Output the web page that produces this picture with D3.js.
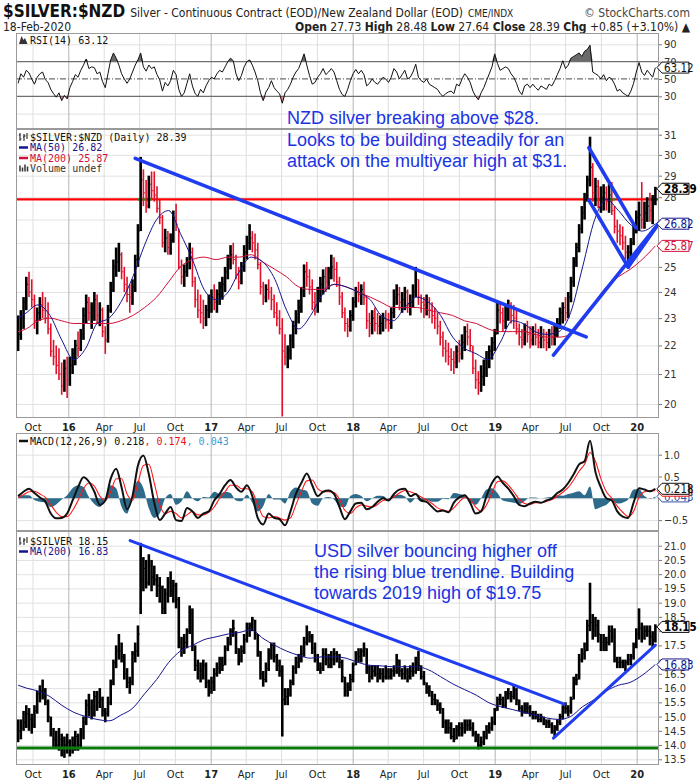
<!DOCTYPE html>
<html>
<head>
<meta charset="utf-8">
<title>$SILVER:$NZD</title>
<script src="https://cdn.jsdelivr.net/npm/d3@7"></script>
<style>
  body { margin: 0; background: #fff; }
  .chart svg { display: block; }
</style>
</head>
<body>
<div class="chart"></div>
<script>
// weekly bars (Tuesday of each week) 25-Aug-2015 .. 18-Feb-2020
const weeks = d3.timeTuesday.range(new Date(2015, 7, 25), new Date(2020, 1, 19));

// $SILVER:$NZD weekly high / low / close
const nzdHigh = [
  23.1,23.3,23.8,24.6,24.8,24.5,23.9,23.4,23.8,24.0,23.8,23.6,22.8,22.2,22.0,21.9,21.4,21.5,21.6,
  21.6,21.9,22.2,22.5,22.6, 23.4,23.9,23.8,23.6, 24.0,23.9,23.6,23.4, 22.7,23.5,24.4,25.3,25.8, 26.0,25.6,25.0,24.6, 24.3,24.5,25.5,26.8, 29.9,29.3,28.8,29.0,29.2, 29.2,28.5,27.9,27.2, 26.6,26.5,26.4,27.4,27.7, 26.6,25.3,25.1,25.4, 26.0,25.8,24.6,24.1, 23.9,23.7,23.5,23.9,24.1,
  24.3,24.1,24.4,24.6, 25.0,25.5,25.9,26.0, 25.5,25.0,25.2,25.9,26.3, 26.8,26.5,26.4,26.0, 25.2,24.4,24.3,24.5, 24.2,23.9,23.6,23.3,23.0, 22.4,22.0,22.4,22.9, 23.3,23.7,24.2,25.1, 25.2,24.9,24.5,24.0,24.2, 24.6,24.9,25.0,25.0, 25.5,25.4,25.2,24.6, 24.0,23.4,23.0,23.3,23.8,
  24.2,24.4,24.3,24.4, 23.8,23.2,23.3,23.4, 23.2,23.1,23.2,23.3,23.2, 23.4,24.1,24.3,24.2, 24.0,24.2,24.1,23.9, 24.3,25.0,24.5,23.9,23.8, 23.9,23.8,23.6,23.4, 23.2,22.9,22.5,22.2,22.1, 21.9,21.8,22.0,22.2, 22.4,22.7,22.8,22.6, 22.0,21.5,21.1,21.3,21.5, 21.8,22.0,22.3,22.6,
  23.6,23.6,23.4,23.5, 23.7,23.6,23.5,23.3, 22.8,22.6,22.8,22.9,22.7, 22.7,22.8,22.6,22.7, 22.6,22.5,22.6,22.7,22.8, 23.0,23.4,23.6,23.8, 24.0,24.6,25.4,26.0, 26.8,27.6,28.2,29.0,30.9, 29.6,28.9,28.8,28.5, 28.6,28.5,28.6,28.7, 27.6,27.0,26.8,26.7,26.3, 25.9,26.2,26.8,27.4,
  27.8,28.7,27.8,28.0,28.2,28.1,28.48
];
const nzdLow = [
  21.8,22.2,22.6,23.3,23.8,23.4,22.6,22.4,22.9,23.0,22.8,22.4,21.6,21.3,21.0,20.8,20.3,20.4,20.2,
  20.6,21.0,21.3,21.6,21.8, 22.2,22.8,22.9,22.6, 22.9,22.8,22.7,22.3, 21.7,22.1,23.2,24.0,24.6, 24.8,24.5,24.0,23.6, 23.2,23.5,24.0,25.0, 26.5,27.6,27.3,27.5,27.9, 27.8,27.3,26.8,25.8, 25.6,25.5,25.5,26.0,26.5, 24.9,24.3,24.2,24.6, 24.9,24.2,23.4,23.0, 22.8,22.6,22.7,23.0,23.2,
  23.3,23.2,23.5,23.7, 24.0,24.5,24.9,25.1, 24.5,24.1,24.3,24.8,25.3, 25.7,25.6,25.3,24.9, 23.9,23.5,23.6,23.7, 23.3,23.0,22.7,22.4,19.6, 21.3,21.2,21.5,21.9, 22.4,22.8,23.2,23.8, 24.2,23.9,23.3,23.1,23.2, 23.6,23.9,24.0,24.1, 24.5,24.4,24.2,23.5, 23.0,22.5,22.3,22.5,22.9,
  23.4,23.6,23.5,23.5, 22.6,22.3,22.4,22.5, 22.4,22.4,22.5,22.6,22.5, 22.6,23.0,23.5,23.3, 23.2,23.3,23.2,23.1, 23.4,23.8,23.5,23.2,23.0, 23.1,23.0,22.8,22.6, 22.4,22.0,21.6,21.4,21.3, 21.1,21.0,21.2,21.4, 21.5,21.8,22.0,21.8, 21.0,20.5,20.3,20.4,20.6, 20.9,21.2,21.5,21.8,
  22.4,22.8,22.5,22.6, 22.9,22.8,22.6,22.4, 22.0,21.9,22.0,22.1,21.9, 22.0,22.0,21.9,21.9, 21.9,21.8,21.9,22.0,22.0, 22.3,22.6,22.8,22.9, 23.0,23.6,24.2,25.0, 25.6,26.4,27.0,27.8,28.5, 27.8,27.6,27.5,27.3, 27.4,27.4,27.3,27.2, 26.4,26.0,25.9,25.7,25.3, 25.2,25.4,25.9,26.4,
  26.5,26.6,26.6,26.9,26.9,26.8,27.64
];
const nzdClose = [
  22.4,23.0,23.6,24.3,24.0,23.7,22.9,23.2,23.5,23.3,23.0,22.6,21.8,21.6,21.3,21.0,20.6,21.2,20.8,
  21.3,21.7,22.0,21.9,22.4, 23.1,23.6,23.2,23.4, 23.7,23.1,23.3,22.5, 22.2,23.3,24.1,25.0,25.2, 25.5,24.8,24.3,23.9, 23.8,24.2,25.3,26.5, 28.8,28.2,27.6,28.6,28.3, 28.1,27.5,27.1,26.0, 26.2,25.8,26.1,27.1,26.8, 25.0,24.6,24.8,25.2, 25.6,24.4,23.7,23.3, 23.2,23.0,23.3,23.6,23.8,
  23.6,23.9,24.2,24.3, 24.8,25.3,25.5,25.3, 24.7,24.4,25.0,25.6,26.0, 26.2,26.0,25.7,25.1, 24.2,23.8,24.1,24.0, 23.7,23.2,23.0,22.6,21.8, 21.6,21.8,22.2,22.7, 23.0,23.4,24.0,24.8, 24.6,24.2,23.6,23.5,23.9, 24.3,24.6,24.4,24.8, 25.0,24.9,24.4,23.8, 23.2,22.8,22.7,23.1,23.6,
  24.0,23.9,24.1,23.8, 22.9,22.8,23.0,22.8, 22.7,22.8,23.0,22.9,22.8, 23.2,23.8,23.9,23.6, 23.7,24.0,23.5,23.6, 24.0,24.5,23.8,23.6,23.5, 23.6,23.3,23.1,23.0, 22.7,22.3,21.9,21.8,21.6, 21.5,21.4,21.8,21.7, 22.1,22.5,22.3,22.0, 21.2,20.8,20.7,20.9,21.2, 21.5,21.8,22.1,22.4,
  23.3,23.2,22.9,23.3, 23.4,23.1,23.0,22.6, 22.3,22.2,22.5,22.4,22.2, 22.4,22.3,22.1,22.3, 22.2,22.1,22.4,22.3,22.6, 22.8,23.2,23.4,23.2, 23.8,24.4,25.2,25.8, 26.6,27.3,27.9,28.8,29.4, 28.2,28.5,27.9,28.0, 28.2,27.8,28.1,27.4, 26.7,26.5,26.3,26.0,25.6, 25.6,26.0,26.6,27.1,
  27.2,27.0,27.3,27.6,27.4,27.7,28.39
];

// $SILVER (USD) weekly high / low / close
const usdHigh = [
  14.9,14.9,15.2,15.4,15.3,15.1,15.4,15.9,16.1,16.3,16.0,15.6,15.0,14.6,14.5,14.6,14.4,14.3,14.4,
  14.2,14.3,14.5,14.4,14.6, 15.0,15.6,15.8,15.6, 15.9,15.9,16.0,15.7, 15.3,15.7,16.3,17.0,17.5, 17.9,17.6,17.2,16.7, 16.4,17.3,17.6,18.2, 21.1,20.6,20.5,20.7,20.5, 20.3,20.0,19.9,19.6, 19.5,19.9,20.1,19.8,19.7, 19.2,17.8,17.9,18.1, 18.9,18.8,17.5,17.0, 16.9,17.0,16.9,16.3,16.4,
  16.7,16.9,17.1,17.1, 17.5,17.8,18.1,18.4, 18.0,17.4,17.5,17.9,18.3, 18.3,18.5,18.4,17.9, 17.3,16.6,16.9,17.4, 17.6,17.6,17.2,17.0,16.8, 16.0,16.0,16.3,16.8, 17.1,17.2,17.5,17.8, 18.2,18.0,17.9,17.6,17.2, 16.9,17.4,17.4,17.2, 17.3,17.4,17.3,17.2, 17.0,16.4,16.2,16.5,16.9,
  17.3,17.4,17.4,17.6, 17.4,16.8,16.8,16.8, 16.8,16.7,16.7,16.8,16.7, 16.7,16.8,17.2,17.0, 16.7,16.8,16.7,16.8, 16.9,17.1,17.3,16.8,16.6, 16.2,16.1,15.9,15.8, 15.6,15.5,15.3,14.9,14.9, 14.8,14.6,14.7,14.8, 14.8,14.9,14.9,14.9, 14.8,14.5,14.4,14.3,14.5, 14.7,14.8,15.0,15.3,
  15.7,15.8,15.7,15.9, 16.0,15.9,16.1,16.0, 15.6,15.4,15.5,15.5,15.4, 15.2,15.2,15.1,15.1, 15.0,14.9,14.9,14.8,14.7, 14.9,15.1,15.4,15.5, 15.4,15.7,16.4,16.5, 17.2,17.4,17.6,18.4,19.7, 18.6,18.5,18.4,17.9, 17.9,17.8,18.2,18.2, 18.1,17.1,17.1,17.0,17.0, 17.2,17.2,17.6,18.1,
  18.8,18.3,18.2,18.2,18.2,18.0,18.24
];
const usdLow = [
  14.1,14.2,14.5,14.6,14.5,14.4,14.6,15.1,15.5,15.6,15.4,14.8,14.3,13.9,13.9,13.8,13.6,13.55,13.7,
  13.6,13.7,13.8,13.8,13.9, 14.2,14.7,15.0,14.9, 15.0,15.2,15.3,15.0, 14.8,15.0,15.4,16.1,16.7, 17.0,16.9,16.3,16.0, 15.8,16.1,16.9,17.1, 18.6,19.4,19.5,19.6,19.4, 19.6,19.2,19.0,18.6, 18.6,19.0,19.2,19.0,18.8, 17.4,17.1,17.2,17.4, 17.9,17.3,16.6,16.3, 16.2,16.3,16.0,15.7,15.8,
  15.9,16.4,16.5,16.6, 16.8,17.3,17.5,17.8, 17.2,16.8,16.9,17.2,17.6, 17.8,18.0,17.7,17.1, 16.3,16.05,16.2,16.6, 17.0,16.9,16.6,16.4,14.3, 15.4,15.4,15.7,16.1, 16.5,16.7,16.9,17.1, 17.5,17.6,17.2,16.9,16.6, 16.5,16.6,16.8,16.7, 16.7,16.8,16.9,16.7, 16.2,15.7,15.7,15.9,16.2,
  16.8,16.9,16.9,17.1, 16.5,16.2,16.3,16.4, 16.2,16.3,16.2,16.3,16.3, 16.3,16.4,16.5,16.4, 16.3,16.3,16.2,16.3, 16.4,16.5,16.6,16.3,16.1, 15.8,15.7,15.4,15.4, 15.2,15.1,14.6,14.4,14.4, 14.2,14.1,14.2,14.3, 14.3,14.4,14.5,14.5, 14.3,14.1,13.85,13.9,14.0, 14.2,14.4,14.5,14.7,
  15.2,15.4,15.3,15.3, 15.6,15.5,15.6,15.4, 15.2,15.0,15.1,15.1,15.0, 14.9,14.9,14.8,14.8, 14.7,14.6,14.6,14.4,14.3, 14.5,14.7,14.9,15.1, 15.0,15.1,15.6,16.1, 16.3,16.9,17.0,17.3,18.0, 17.7,17.8,17.6,17.3, 17.3,17.3,17.5,17.6, 16.9,16.7,16.7,16.7,16.6, 16.8,16.8,17.0,17.4,
  17.7,17.6,17.7,17.8,17.5,17.4,17.6
];
const usdClose = [
  14.5,14.6,14.8,15.1,14.9,14.7,15.2,15.8,15.9,15.8,15.5,15.0,14.4,14.2,14.0,14.2,13.9,14.0,14.1,
  13.9,14.0,14.3,14.0,14.4, 14.8,15.4,15.3,15.1, 15.7,15.5,15.6,15.2, 15.1,15.5,16.2,16.9,17.3, 17.3,17.1,16.5,16.2, 16.2,17.2,17.3,17.9, 19.8,20.2,19.7,20.3,19.9, 19.8,19.6,19.5,18.8, 19.3,19.7,19.4,19.6,19.1, 17.6,17.4,17.6,18.0, 18.6,17.5,16.8,16.6, 16.6,16.8,16.2,16.0,16.2,
  16.5,16.7,17.0,16.8, 17.4,17.6,18.0,18.1, 17.4,17.0,17.3,17.7,18.1, 18.2,18.4,17.9,17.3, 16.5,16.3,16.7,17.2, 17.5,17.1,16.8,16.6,15.6, 15.7,15.8,16.2,16.7, 16.9,17.0,17.2,17.6, 17.9,17.8,17.4,17.0,16.7, 16.7,17.2,17.0,16.8, 17.0,17.2,17.1,16.9, 16.4,15.9,16.0,16.3,16.8,
  17.2,17.1,17.3,17.4, 16.7,16.4,16.6,16.5, 16.5,16.5,16.4,16.6,16.4, 16.6,16.6,17.0,16.6, 16.5,16.6,16.4,16.6, 16.6,16.9,16.8,16.4,16.2, 16.0,15.9,15.6,15.6, 15.4,15.3,14.8,14.6,14.6, 14.3,14.2,14.5,14.6, 14.6,14.7,14.7,14.6, 14.4,14.2,14.0,14.1,14.3, 14.5,14.6,14.8,15.2,
  15.6,15.6,15.4,15.8, 15.8,15.7,15.9,15.6, 15.3,15.2,15.3,15.3,15.1, 15.1,15.0,14.9,15.0, 14.9,14.8,14.7,14.5,14.6, 14.8,15.0,15.3,15.3, 15.2,15.6,16.3,16.3, 17.0,17.2,17.3,18.2,18.3, 18.0,18.2,17.9,17.6, 17.6,17.6,18.0,17.8, 17.0,16.9,16.9,16.8,16.9, 17.0,17.1,17.5,17.9,
  18.1,17.9,18.0,18.0,17.8,17.7,18.15
];

// RSI(14) of $SILVER:$NZD, one value per week
const rsi14 = [
  45,56,52,60,57,50,44,52,56,58,49,46,38,33,29,34,25,31,27,
  40,47,55,52,60, 66,73,62,64, 63,56,58,47, 40,56,72,80,74, 66,56,50,45, 50,58,66,72, 80,64,59,66,62, 64,55,49,36, 46,42,48,60,55, 38,30,34,45, 56,42,33,30, 38,34,42,48,52,
  50,56,60,58, 64,70,74,71, 56,48,54,64,70, 72,66,58,48, 34,25,35,40, 48,40,36,33,22, 34,38,44,52, 58,62,70,79, 66,54,44,46,52, 56,62,55,58, 62,58,48,38, 32,30,38,48,56,
  61,56,60,55, 42,45,50,46, 44,48,52,50,46, 52,62,58,50, 55,60,50,52, 58,67,52,48,46, 50,44,42,40, 38,33,30,33,35, 36,33,44,42, 50,56,52,46, 36,30,26,34,40, 48,56,64,79,
  68,60,62,64, 62,56,52,45, 36,32,42,44,40, 44,40,37,42, 40,38,44,42,48, 55,62,71,62, 66,74,76,78, 80,76,82,84,89, 58,56,54,50, 55,48,52,50, 44,36,38,34,32, 30,36,45,58,
  69,58,54,60,56,52,63.12
];

// MACD(12,26,9) line and signal, every second week
const macdLine = [
  0.05,0.15,0.22,0.12,0.02,-0.08,-0.35,-0.46,-0.45,-0.35,
  -0.05,0.25,0.48,0.38,0.15,-0.15,-0.05,0.45,0.68,0.25,
  -0.25,0.05,0.75,0.98,0.55,-0.1,-0.5,-0.35,-0.2,-0.5,
  -0.52,-0.22,-0.3,-0.45,-0.35,-0.3,-0.05,0.1,0.3,0.42,
  0.25,0.15,0.3,0.05,-0.45,-0.6,-0.35,-0.45,-0.48,-0.62,
  -0.3,0.1,0.35,0.57,0.3,0.05,0.15,0.18,0.1,-0.2,
  -0.48,-0.3,-0.12,-0.1,-0.25,-0.2,-0.08,0.0,-0.05,0.1,
  0.2,0.22,0.05,0.1,-0.05,-0.08,-0.2,-0.3,-0.28,-0.32,
  -0.1,0.02,0.07,-0.1,-0.35,-0.3,0.05,0.35,0.5,0.35,
  0.22,0.05,-0.15,-0.18,-0.12,-0.08,-0.1,-0.05,0.0,0.12,
  0.2,0.35,0.55,0.78,0.85,1.32,0.6,0.25,0.0,-0.05,
  -0.3,-0.42,-0.45,-0.1,0.23,0.2,0.16,0.218
];
const macdSignal = [
  0.02,0.08,0.15,0.16,0.1,0.02,-0.15,-0.32,-0.42,-0.42,
  -0.28,-0.05,0.22,0.35,0.28,0.05,-0.05,0.15,0.45,0.45,
  0.1,-0.05,0.35,0.75,0.78,0.35,-0.15,-0.35,-0.3,-0.35,
  -0.45,-0.38,-0.3,-0.38,-0.38,-0.32,-0.2,0.0,0.15,0.3,
  0.3,0.22,0.22,0.15,-0.15,-0.42,-0.45,-0.42,-0.45,-0.5,
  -0.45,-0.15,0.15,0.4,0.42,0.22,0.15,0.15,0.13,-0.02,
  -0.28,-0.35,-0.22,-0.15,-0.18,-0.2,-0.14,-0.05,-0.03,0.03,
  0.12,0.18,0.15,0.1,0.03,-0.04,-0.12,-0.22,-0.27,-0.3,
  -0.22,-0.08,0.02,-0.02,-0.2,-0.3,-0.15,0.12,0.38,0.4,
  0.3,0.15,-0.02,-0.12,-0.14,-0.1,-0.1,-0.07,-0.03,0.05,
  0.14,0.25,0.42,0.62,0.78,1.05,0.85,0.45,0.15,0.0,
  -0.18,-0.32,-0.42,-0.3,0.02,0.15,0.17,0.174
];

// moving averages, read at mid-month (first and last point at the data ends)
const maDates = [new Date(2015, 7, 25)]
  .concat(d3.timeMonth.range(new Date(2015, 8, 1), new Date(2020, 0, 2)).map(d => d3.timeDay.offset(d, 14)))
  .concat([new Date(2020, 1, 18)]);
const nzdMa50 = [
  23.0, 23.2,23.5,23.1,22.2,
  21.5,21.9,22.8,23.0,23.6,24.6,25.9,27.0,27.4,26.4,25.3,24.1,
  23.7,24.0,24.8,25.4,25.2,24.5,23.3,22.6,23.1,23.9,24.3,24.2,
  24.0,23.7,23.1,22.9,23.4,23.8,23.6,23.1,22.3,21.9,21.7,21.5,
  22.1,22.9,22.8,22.5,22.4,22.5,23.2,25.0,27.0,27.9,27.4,26.8,
  26.5, 26.82
];
const nzdMa200 = [
  22.5, 22.6,22.9,23.0,22.9,
  22.8,22.8,22.8,22.8,22.9,23.1,23.4,23.8,24.4,25.0,25.3,25.4,
  25.3,25.4,25.4,25.5,25.2,24.9,24.6,24.2,24.1,24.1,24.3,24.2,
  24.0,23.8,23.6,23.4,23.4,23.4,23.3,23.2,23.1,22.9,22.8,22.6,
  22.5,22.5,22.5,22.4,22.3,22.3,22.4,22.9,23.6,24.2,24.6,24.9,
  25.3, 25.87
];
const usdMa200 = [
  16.1, 16.0,15.9,15.7,15.4,
  15.15,15.0,14.9,14.85,15.05,15.3,15.8,16.3,16.9,17.3,17.5,17.7,
  17.8,17.9,17.95,18.05,17.75,17.5,17.3,17.15,17.05,17.1,17.1,17.05,
  16.9,16.8,16.78,16.75,16.75,16.75,16.64,16.4,16.15,15.95,15.75,15.5,
  15.35,15.25,15.15,15.05,14.95,14.9,15.0,15.35,15.6,15.9,16.1,16.2,
  16.45, 16.83
];

// drawn annotations: [date, price] end points
const nzdTrendlines = [
  [['2016-06-21', 29.83], ['2019-08-24', 22.31]],
  [['2019-06-01', 21.66], ['2020-02-27', 26.84]],
  [['2019-08-31', 30.35], ['2019-12-30', 26.64]],
  [['2019-08-31', 27.87], ['2019-12-10', 24.99]],
  [['2019-12-10', 24.99], ['2020-02-29', 26.89]]
];
const usdTrendlines = [
  [['2016-06-08', 21.18], ['2019-06-29', 15.44]],
  [['2019-06-01', 14.24], ['2020-02-18', 17.51]]
];
const nzdResistance = 27.9;
const nzdResistanceMarks = [['2016-06-28', '2016-08-03'], ['2019-09-09', '2019-11-06'], ['2020-02-04', '2020-02-22']];
const usdSupport = 13.9;
const nzdNote = ['NZD silver breaking above $28.', 'Looks to be building steadily for an', 'attack on the multiyear high at $31.'];
const usdNote = ['USD silver bouncing higher off', 'the rising blue trendline. Building', 'towards 2019 high of $19.75'];

const rsiTicks = [30, 50, 70, 90];
const nzdTicks = d3.range(20, 32);
const macdTicks = [-0.5, 0, 0.5, 1.0];
const usdTicks = d3.range(13.5, 21.01, 0.5);
const dateTicks = d3.timeMonth.every(3).range(new Date(2015, 9, 1), new Date(2020, 0, 2));

// last values shown as tags on the right axis
const rsiTags = [[63.12, '63.12', 'ink']];
const nzdTags = [[25.87, '25.87', 'red'], [26.82, '26.82', 'navy'], [28.39, '28.39', 'bold']];
const macdTags = [[0.043, '0.043', 'slate'], [0.174, '0.174', 'lred'], [0.218, '0.218', 'ink']];
const usdTags = [[16.83, '16.83', 'navy'], [18.15, '18.15', 'bold']];

// ---------------------------------------------------------------
const W = 700, H = 780;
const plotL = 16, plotR = 659;
const NARROW = '"Liberation Sans Narrow","Arial Narrow","DejaVu Sans Condensed",sans-serif';
const MONO = '"DejaVu Sans Mono",monospace';
const ARIAL = '"Liberation Sans",Arial,sans-serif';
const BLUE = '#1f3cf0';
const NAVY = '#14148c';
const CRIMSON = '#d0103a';
const tagStyle = {
  ink: ['#111', false], bold: ['#000', true], navy: [NAVY, false],
  red: [CRIMSON, false], slate: ['#3a4fa0', false], lred: ['#ee1111', false]
};
const parse = d3.timeParse('%Y-%m-%d');

const panels = {
  rsi: { top: 33, bottom: 129 },
  main: { top: 129, bottom: 418 },
  macd: { top: 433, bottom: 531 },
  usd: { top: 531, bottom: 765 }
};

const x = d3.scaleTime().domain([new Date(2016, 0, 1), new Date(2020, 0, 1)]).range([68.3, 636.7]);
const yRsi = d3.scaleLinear().domain([30, 90]).range([96.3, 44.3]);
const yMain = d3.scaleLog().domain([20, 31]).range([404, 134.7]);
const yMacd = d3.scaleLinear().domain([-0.5, 1]).range([520.1, 454.7]);
const yUsd = d3.scaleLinear().domain([13.5, 21]).range([759.3, 545.7]);

const svg = d3.select('.chart').append('svg')
  .attr('width', W).attr('height', H)
  .attr('viewBox', `0 0 ${W} ${H}`)
  .style('background', '#fff');

const defs = svg.append('defs');
Object.entries(panels).forEach(([k, p]) => {
  defs.append('clipPath').attr('id', 'clip-' + k)
    .append('rect')
    .attr('x', plotL).attr('y', p.top)
    .attr('width', plotR - plotL).attr('height', p.bottom - p.top);
});

// panel frame + grid
function panel(key, yScale, gridValues) {
  const p = panels[key];
  const g = svg.append('g').attr('class', 'panel-' + key);
  g.append('rect')
    .attr('x', plotL).attr('y', p.top)
    .attr('width', plotR - plotL).attr('height', p.bottom - p.top)
    .attr('fill', '#fff');
  // horizontal grid
  g.append('g')
    .attr('transform', `translate(${plotL},0)`)
    .call(d3.axisLeft(yScale).tickValues(gridValues).tickSize(-(plotR - plotL)).tickFormat(''))
    .call(a => a.select('.domain').remove())
    .call(a => a.selectAll('line').attr('stroke', '#e2e2e2'));
  // vertical grid
  g.append('g')
    .attr('transform', `translate(0,${p.bottom})`)
    .call(d3.axisBottom(x).tickValues(dateTicks).tickSize(-(p.bottom - p.top)).tickFormat(''))
    .call(a => a.select('.domain').remove())
    .call(a => a.selectAll('line').attr('stroke', d => d.getMonth() === 0 ? '#b4b4b4' : '#dedede'));
  const body = g.append('g').attr('clip-path', `url(#clip-${key})`);
  return { g, body };
}

function frame(g, key) {
  const p = panels[key];
  g.append('rect')
    .attr('x', plotL + 0.5).attr('y', p.top + 0.5)
    .attr('width', plotR - plotL - 1).attr('height', p.bottom - p.top - 1)
    .attr('fill', 'none').attr('stroke', '#9a9a9a');
}

// right axis; a label that a value tag would hide completely is left out
function rightAxis(g, yScale, values, fmt, tags) {
  const shown = values.filter(v => tags.every(t => Math.abs(yScale(v) - yScale(t[0])) > 5));
  g.append('g')
    .attr('transform', `translate(${plotR},0)`)
    .call(d3.axisRight(yScale).tickValues(values).tickFormat(v => shown.includes(v) ? fmt(v) : '')
      .tickSize(3).tickPadding(2))
    .call(a => a.select('.domain').remove())
    .call(a => a.selectAll('line').attr('stroke', '#777'))
    .call(a => a.selectAll('text')
      .attr('font-family', NARROW).attr('font-size', 11).attr('fill', '#333'));
}

function dateAxis(key) {
  const p = panels[key];
  svg.append('g')
    .attr('transform', `translate(0,${p.bottom})`)
    .call(d3.axisBottom(x).tickValues(dateTicks).tickSize(0).tickPadding(5)
      .tickFormat(d => d.getMonth() === 0 ? d3.timeFormat('%y')(d) : d3.timeFormat('%b')(d)))
    .call(a => a.select('.domain').remove())
    .call(a => a.selectAll('text')
      .attr('font-family', NARROW).attr('font-size', 11).attr('fill', '#222')
      .attr('font-weight', d => d.getMonth() === 0 ? 'bold' : 'normal'));
}

// value tags with arrow, on the right axis
function tags(yScale, list) {
  list.forEach(([v, label, style]) => {
    const [color, bold] = tagStyle[style];
    const t = svg.append('g').attr('transform', `translate(${plotR - 2},${yScale(v)})`);
    t.append('path')
      .attr('d', 'M0,0L5,-5.5H32V5.5H5Z')
      .attr('fill', '#fff').attr('stroke', color).attr('stroke-width', 1);
    t.append('text')
      .attr('x', 7).attr('dy', '0.36em')
      .attr('font-family', NARROW).attr('font-size', 11.5)
      .attr('font-weight', bold ? 'bold' : 'normal')
      .attr('fill', color).text(label);
  });
}

function legendLine(g, y, parts, icon) {
  if (icon === 'dash') {
    g.append('line').attr('x1', 19).attr('x2', 28).attr('y1', y).attr('y2', y)
      .attr('stroke', parts[0][1]).attr('stroke-width', 2.5);
  } else if (icon === 'bars') {
    g.append('path').attr('d', `M20,${y + 3}v-6M22.5,${y + 3}v-4M25,${y + 3}v-7M27.5,${y + 3}v-5`)
      .attr('stroke', '#333').attr('stroke-width', 1.5);
  } else if (icon === 'ohlc') {
    g.append('path').attr('d', `M20,${y - 4}v8M19,${y - 2}h1M20,${y + 2}h1.5M24,${y - 3}v7M23,${y}h1M24,${y - 1}h1.5M27,${y - 4}v6`)
      .attr('stroke', '#222').attr('stroke-width', 1.1);
  } else if (icon === 'mountain') {
    g.append('path').attr('d', `M19,${y + 4}L21.5,${y - 4}L23.5,${y}L25,${y - 2}L27.5,${y + 4}Z`)
      .attr('fill', '#333');
  }
  const t = g.append('text')
    .attr('x', icon ? 30 : 19).attr('y', y).attr('dy', '0.36em')
    .attr('font-family', MONO).attr('font-size', 10);
  parts.forEach(([s, c]) => t.append('tspan').attr('fill', c).text(s));
}

function ohlcBars(body, yScale, highs, lows, closes, isDown) {
  const idx = d3.range(weeks.length);
  const col = i => isDown(i) ? '#e0102a' : '#000';
  body.append('g').selectAll('line')
    .data(idx).join('line')
    .attr('x1', i => x(weeks[i])).attr('x2', i => x(weeks[i]))
    .attr('y1', i => yScale(highs[i])).attr('y2', i => yScale(lows[i]))
    .attr('stroke', col).attr('stroke-width', i => isDown(i) ? 1.6 : 2.6);
  body.append('g').selectAll('line')
    .data(idx).join('line')
    .attr('x1', i => x(weeks[i])).attr('x2', i => x(weeks[i]) + 1.8)
    .attr('y1', i => yScale(closes[i])).attr('y2', i => yScale(closes[i]))
    .attr('stroke', col).attr('stroke-width', 1);
}

function trendlines(body, yScale, lines, width) {
  body.append('g').selectAll('line')
    .data(lines).join('line')
    .attr('x1', d => x(parse(d[0][0]))).attr('y1', d => yScale(d[0][1]))
    .attr('x2', d => x(parse(d[1][0]))).attr('y2', d => yScale(d[1][1]))
    .attr('stroke', BLUE).attr('stroke-width', width).attr('stroke-linecap', 'round');
}

function note(g, lines, x0, y0, step) {
  g.append('g').selectAll('text')
    .data(lines).join('text')
    .attr('x', x0).attr('y', (d, i) => y0 + i * step).attr('dy', '0.35em')
    .attr('font-family', ARIAL).attr('font-size', 18).attr('fill', '#1a33e4')
    .text(d => d);
}

// ---------------- header ----------------
const head = svg.append('g').attr('class', 'header');
const t1 = head.append('text').attr('x', 3).attr('y', 17);
t1.append('tspan').attr('font-family', NARROW).attr('font-size', 17).attr('font-weight', 'bold').attr('fill', '#111').text('$SILVER:$NZD');
t1.append('tspan').attr('font-family', NARROW).attr('font-size', 12).attr('fill', '#222').attr('dx', 5).text('Silver - Continuous Contract (EOD)/New Zealand Dollar (EOD)');
t1.append('tspan').attr('font-family', NARROW).attr('font-size', 10).attr('fill', '#222').attr('dx', 5).text('CME/INDX');
head.append('text').attr('x', 690).attr('y', 17).attr('text-anchor', 'end')
  .attr('font-family', NARROW).attr('font-size', 12).attr('fill', '#444')
  .text('\u00a9 StockCharts.com');
head.append('text').attr('x', 3).attr('y', 31)
  .attr('font-family', NARROW).attr('font-size', 12).attr('fill', '#222').text('18-Feb-2020');
const t2 = head.append('text').attr('x', 690).attr('y', 31).attr('text-anchor', 'end')
  .attr('font-family', NARROW).attr('font-size', 12).attr('fill', '#222');
[['Open', 1], [' 27.73 ', 0], ['High', 1], [' 28.48 ', 0], ['Low', 1], [' 27.64 ', 0],
 ['Close', 1], [' 28.39 ', 0], ['Chg', 1], [' +0.85 (+3.10%) \u25b2', 0]]
  .forEach(([s, b]) => t2.append('tspan').attr('font-weight', b ? 'bold' : 'normal').text(s));

// ---------------- RSI panel ----------------
{
  const { g, body } = panel('rsi', yRsi, [10, 90]);
  const area70 = d3.area().x((d, i) => x(weeks[i])).y0(yRsi(70)).y1(d => yRsi(Math.max(d, 70)));
  const area30 = d3.area().x((d, i) => x(weeks[i])).y0(yRsi(30)).y1(d => yRsi(Math.min(d, 30)));
  body.append('path').datum(rsi14).attr('d', area70).attr('fill', '#6a6a6a');
  body.append('path').datum(rsi14).attr('d', area30).attr('fill', '#e48a8a');
  body.selectAll('line.lvl').data([70, 30, 50]).join('line')
    .attr('x1', plotL).attr('x2', plotR)
    .attr('y1', d => yRsi(d)).attr('y2', d => yRsi(d))
    .attr('stroke', '#6f6f6f').attr('stroke-width', 1.2)
    .attr('stroke-dasharray', d => d === 50 ? '6,2,1,2' : null);
  body.append('path').datum(rsi14)
    .attr('d', d3.line().x((d, i) => x(weeks[i])).y(d => yRsi(d)))
    .attr('fill', 'none').attr('stroke', '#111').attr('stroke-width', 1);
  frame(g, 'rsi');
  legendLine(g, 40, [['RSI(14) 63.12', '#111']], 'mountain');
  rightAxis(g, yRsi, rsiTicks, d3.format('d'), rsiTags);
}

// ---------------- main price panel ----------------
{
  const { g, body } = panel('main', yMain, nzdTicks);
  body.append('line')
    .attr('x1', plotL).attr('x2', plotR)
    .attr('y1', yMain(nzdResistance)).attr('y2', yMain(nzdResistance))
    .attr('stroke', '#ff0000').attr('stroke-width', 2.2);
  body.append('g').selectAll('line').data(nzdResistanceMarks).join('line')
    .attr('x1', d => x(parse(d[0]))).attr('x2', d => x(parse(d[1])))
    .attr('y1', yMain(nzdResistance)).attr('y2', yMain(nzdResistance))
    .attr('stroke', '#1a9a1a').attr('stroke-width', 2.2);
  ohlcBars(body, yMain, nzdHigh, nzdLow, nzdClose, i => i > 0 && nzdClose[i] < nzdClose[i - 1]);
  const maLine = d3.line().x((d, i) => x(maDates[i])).y(d => yMain(d)).curve(d3.curveMonotoneX);
  body.append('path').datum(nzdMa200).attr('d', maLine)
    .attr('fill', 'none').attr('stroke', CRIMSON).attr('stroke-width', 1);
  body.append('path').datum(nzdMa50).attr('d', maLine)
    .attr('fill', 'none').attr('stroke', NAVY).attr('stroke-width', 1);
  trendlines(body, yMain, nzdTrendlines, 3.6);
  frame(g, 'main');
  legendLine(g, 137, [['$SILVER:$NZD (Daily) 28.39', '#111']], 'ohlc');
  legendLine(g, 147.5, [['MA(50) 26.82', NAVY]], 'dash');
  legendLine(g, 158, [['MA(200) 25.87', CRIMSON]], 'dash');
  legendLine(g, 168.5, [['Volume undef', '#333']], 'bars');
  note(g, nzdNote, 287, 118, 21.5);
  rightAxis(g, yMain, nzdTicks, d3.format('d'), nzdTags);
}
dateAxis('main');

// ---------------- MACD panel ----------------
{
  const { g, body } = panel('macd', yMacd, macdTicks);
  const macdDates = weeks.filter((d, i) => i % 2 === 0);
  body.append('path').datum(macdLine)
    .attr('d', d3.area().x((d, i) => x(macdDates[i])).y0(yMacd(0))
      .y1((d, i) => yMacd(d - macdSignal[i])).curve(d3.curveMonotoneX))
    .attr('fill', '#2e6a8a');
  body.append('path').datum(macdSignal)
    .attr('d', d3.line().x((d, i) => x(macdDates[i])).y(d => yMacd(d)).curve(d3.curveMonotoneX))
    .attr('fill', 'none').attr('stroke', '#ff1a1a').attr('stroke-width', 1.1);
  body.append('path').datum(macdLine)
    .attr('d', d3.line().x((d, i) => x(macdDates[i])).y(d => yMacd(d)).curve(d3.curveMonotoneX))
    .attr('fill', 'none').attr('stroke', '#111').attr('stroke-width', 2);
  frame(g, 'macd');
  legendLine(g, 441, [['MACD(12,26,9) 0.218', '#111'], [', 0.174', '#ee1111'], [', 0.043', '#3d9bd4']], 'dash');
  rightAxis(g, yMacd, [-0.5, 0.5, 1.0], d3.format('.1f'), macdTags);
}

// ---------------- USD silver panel ----------------
{
  const { g, body } = panel('usd', yUsd, usdTicks);
  ohlcBars(body, yUsd, usdHigh, usdLow, usdClose, () => false);
  body.append('path').datum(usdMa200)
    .attr('d', d3.line().x((d, i) => x(maDates[i])).y(d => yUsd(d)).curve(d3.curveMonotoneX))
    .attr('fill', 'none').attr('stroke', NAVY).attr('stroke-width', 1);
  body.append('line')
    .attr('x1', plotL).attr('x2', plotR)
    .attr('y1', yUsd(usdSupport)).attr('y2', yUsd(usdSupport))
    .attr('stroke', '#0a7a0a').attr('stroke-width', 3);
  trendlines(body, yUsd, usdTrendlines, 3);
  frame(g, 'usd');
  legendLine(g, 541, [['$SILVER 18.15', '#111']], 'ohlc');
  legendLine(g, 551.5, [['MA(200) 16.83', NAVY]], 'dash');
  note(g, usdNote, 314, 550.7, 21);
  rightAxis(g, yUsd, usdTicks, d3.format('.1f'), usdTags);
}
dateAxis('usd');

// ---------------- value tags ----------------
tags(yRsi, rsiTags);
tags(yMain, nzdTags);
tags(yMacd, macdTags);
tags(yUsd, usdTags);
</script>
</body>
</html>
